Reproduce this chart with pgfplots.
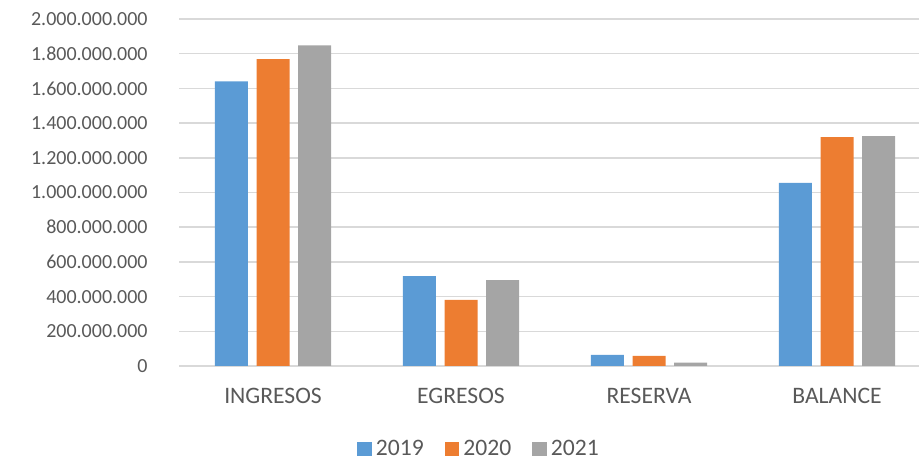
\documentclass[border=0pt]{standalone}
\usepackage{fontspec}
\setmainfont{Carlito}
\usepackage{pgfplots}
\pgfplotsset{compat=1.18}

\definecolor{c2019}{HTML}{5B9BD5}
\definecolor{c2020}{HTML}{ED7D31}
\definecolor{c2021}{HTML}{A5A5A5}
\definecolor{gridc}{HTML}{D9D9D9}
\definecolor{txt}{HTML}{595959}

\begin{document}
\begin{tikzpicture}
\useasboundingbox (0,0) rectangle (459.5pt,232pt);
\begin{axis}[
  at={(89.5pt,49pt)}, anchor=south west,
  scale only axis, width=370pt, height=173.5pt,
  ybar=4.35pt, bar width=16.5pt,
  xmin=-0.5, xmax=3.436,
  ymin=0, ymax=2000000000,
  xtick={0,1,2,3},
  xticklabels={INGRESOS,EGRESOS,RESERVA,BALANCE},
  ytick={0,200000000,400000000,600000000,800000000,1000000000,1200000000,1400000000,1600000000,1800000000,2000000000},
  yticklabels={0,200.000.000,400.000.000,600.000.000,800.000.000,1.000.000.000,1.200.000.000,1.400.000.000,1.600.000.000,1.800.000.000,2.000.000.000},
  scaled y ticks=false,
  /pgf/number format/assume math mode=true,
  major tick length=0pt,
  axis lines*=left,
  y axis line style={draw=none},
  x axis line style={draw=gridc, line width=0.75pt, -},
  ymajorgrids, grid style={gridc, line width=0.75pt},
  yticklabel style={font=\fontsize{10}{12}\selectfont, text=txt, anchor=east, inner sep=0pt, xshift=-15.5pt},
  xticklabel style={font=\fontsize{11.8}{14}\selectfont, text=txt, anchor=base, inner sep=0pt, yshift=-18.7pt},
  legend columns=3,
  legend style={at={(0.4068,-0.239)}, anchor=center, draw=none, fill=none,
    font=\fontsize{11.8}{14}\selectfont, text=txt, inner sep=0pt,
    /tikz/every even column/.append style={column sep=8.5pt}},
  legend image code/.code={\fill[#1] (0pt,-3.3pt) rectangle (7.3pt,3.3pt);},
]
\addplot[fill=c2019, draw=none] coordinates {(0,1641000000) (1,518000000) (2,64000000) (3,1056000000)};
\addplot[fill=c2020, draw=none] coordinates {(0,1768000000) (1,381000000) (2,58000000) (3,1319000000)};
\addplot[fill=c2021, draw=none] coordinates {(0,1848000000) (1,495000000) (2,19000000) (3,1325000000)};
\legend{2019,2020,2021}
\end{axis}
\end{tikzpicture}
\end{document}
